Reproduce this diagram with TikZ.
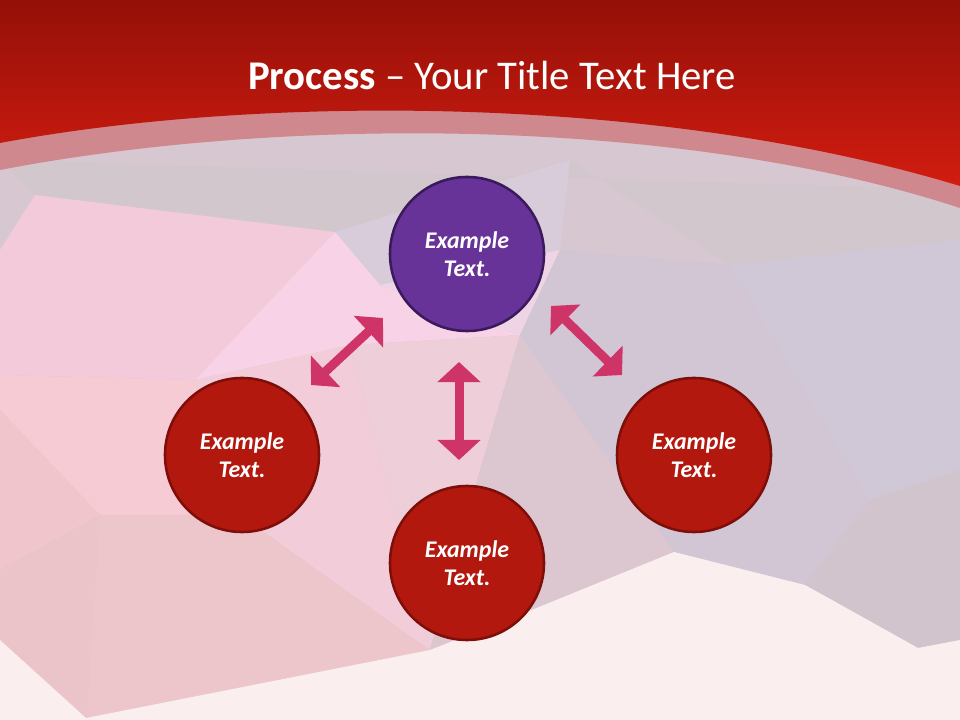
\documentclass[tikz,border=0pt]{standalone}
\usepackage{fontspec}
\setmainfont{Carlito}
\usetikzlibrary{arrows.meta}
\definecolor{bannertop}{RGB}{148,16,8}
\definecolor{bannerbot}{RGB}{210,28,16}
\definecolor{bandpink}{RGB}{206,136,142}
\definecolor{stepred}{RGB}{178,24,14}
\definecolor{stepredline}{RGB}{125,14,10}
\definecolor{steppurple}{RGB}{104,51,152}
\definecolor{steppurpleline}{RGB}{58,26,92}
\definecolor{arrowpink}{RGB}{207,52,104}
\begin{document}
\begin{tikzpicture}[x=0.025cm, y=-0.025cm,
        stepnode/.style={circle, minimum size=3.85cm, line width=1.8pt, draw=stepredline, fill=stepred,
            text=white, align=center, font=\fontsize{17}{20}\selectfont\bfseries\itshape},
        toppnode/.style={stepnode, draw=steppurpleline, fill=steppurple},
        dblarrow/.style={{Triangle[width=1.05cm, length=0.5cm]}-{Triangle[width=1.05cm, length=0.5cm]},
            line width=6.4pt, draw=arrowpink}
    ]
    \useasboundingbox (0,0) rectangle (960,720);
    % low poly background
    \fill[fill={rgb,255:red,214;green,199;blue,208}] (0,0) rectangle (960,720);
    \fill[fill={rgb,255:red,210;green,199;blue,205}] (0,160) -- (960,190) -- (960,240) -- (730,265) -- (570,160) -- (335,232) -- (35,195) -- cycle;
    \fill[fill={rgb,255:red,216;green,203;blue,218}] (335,232) -- (570,160) -- (560,250) -- (520,335) -- (380,285) -- cycle;
    \fill[fill={rgb,255:red,242;green,202;blue,218}] (35,195) -- (335,232) -- (195,380) -- (0,375) -- (0,250) -- cycle;
    \fill[fill={rgb,255:red,248;green,210;blue,230}] (335,232) -- (380,285) -- (520,335) -- (350,345) -- (195,380) -- cycle;
    \fill[fill={rgb,255:red,238;green,212;blue,228}] (380,285) -- (560,250) -- (520,335) -- cycle;
    \fill[fill={rgb,255:red,247;green,203;blue,212}] (0,375) -- (195,380) -- (240,515) -- (100,515) -- (0,410) -- cycle;
    \fill[fill={rgb,255:red,240;green,198;blue,204}] (0,410) -- (100,515) -- (0,570) -- cycle;
    \fill[fill={rgb,255:red,237;green,198;blue,203}] (100,515) -- (240,515) -- (430,650) -- (86,718) -- cycle;
    \fill[fill={rgb,255:red,234;green,196;blue,200}] (0,570) -- (100,515) -- (86,718) -- (0,640) -- cycle;
    \fill[fill={rgb,255:red,242;green,204;blue,216}] (195,380) -- (350,345) -- (430,650) -- (240,515) -- cycle;
    \fill[fill={rgb,255:red,238;green,206;blue,216}] (350,345) -- (520,335) -- (480,470) -- (430,650) -- cycle;
    \fill[fill={rgb,255:red,220;green,198;blue,208}] (520,335) -- (674,552) -- (539,607) -- (430,650) -- (480,470) -- cycle;
    \fill[fill={rgb,255:red,210;green,198;blue,212}] (560,250) -- (730,265) -- (870,500) -- (805,585) -- (674,552) -- (520,335) -- cycle;
    \fill[fill={rgb,255:red,208;green,200;blue,214}] (730,265) -- (960,240) -- (960,470) -- (870,500) -- cycle;
    \fill[fill={rgb,255:red,210;green,196;blue,205}] (870,500) -- (960,470) -- (960,640) -- (918,648) -- (805,585) -- cycle;
    \fill[fill={rgb,255:red,251;green,238;blue,238}] (0,640) -- (86,718) -- (430,650) -- (539,607) -- (674,552) -- (805,585) -- (918,648) -- (960,640) -- (960,720) -- (0,720) -- cycle;
    % title banner
    \fill[fill=bandpink] (0,0) -- (960,0) -- (960,208) .. controls (680,116) and (280,116) .. (0,170) -- cycle;
    \shade[top color=bannertop, bottom color=bannerbot] (0,0) -- (960,0) -- (960,186) .. controls (650,92) and (250,96) .. (0,143) -- cycle;
    \node[text=white, font=\fontsize{29}{35}\selectfont] (title) at (492,75) {\textbf{Process} – Your Title Text Here};
    % steps
    \node[toppnode] (top) at (467,254) {Example\\Text.};
    \node[stepnode] (left) at (242,455) {Example\\Text.};
    \node[stepnode] (right) at (694,455) {Example\\Text.};
    \node[stepnode] (bottom) at (467,563) {Example\\Text.};
    \coordinate (la) at (383,318);
    \coordinate (lb) at (311,385);
    \coordinate (ra) at (551,306);
    \coordinate (rb) at (622,375);
    \coordinate (ma) at (459,362);
    \coordinate (mb) at (459,460);
    \draw[dblarrow] (lb) -- (la);
    \draw[dblarrow] (ra) -- (rb);
    \draw[dblarrow] (ma) -- (mb);
\end{tikzpicture}
\end{document}
